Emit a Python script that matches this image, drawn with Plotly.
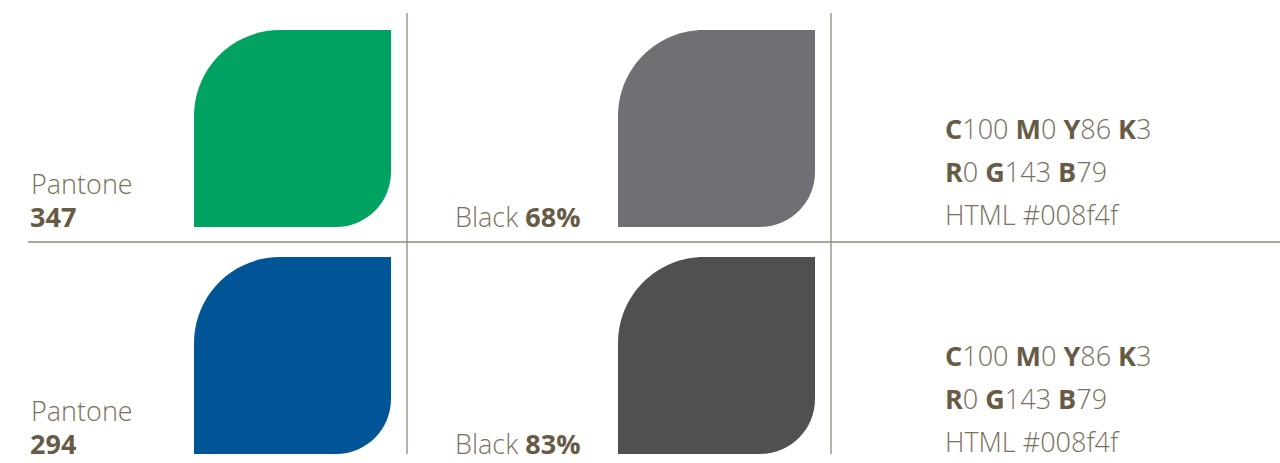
import plotly.graph_objects as go

# ---- data ----
pantone_codes = ["347", "294"]
pantone_colors = ["#00a262", "#005596"]
black_percents = ["68%", "83%"]
black_colors = ["#6f7074", "#505052"]
cmyk_values = [["100", "0", "86", "3"], ["100", "0", "86", "3"]]
rgb_values = [["0", "143", "79"], ["0", "143", "79"]]
html_codes = ["#008f4f", "#008f4f"]

# ---- style / layout ----
W, H = 1280, 463
LIGHT = "#7a705d"
BOLD = "#675b45"
LINE = "#8f8878"
FONT = "Open Sans Light, Open Sans"
row_top = [30, 257]
sw_size = 197
sw_x = [194, 618]
r_big, r_small = 86, 55
K = 0.5523

def leaf(x0, y0, s):
    x1, y1 = x0 + s, y0 + s
    a, b = r_big, r_small
    return (f"M {x0},{y1} L {x0},{y0+a} "
            f"C {x0},{y0+a*(1-K)} {x0+a*(1-K)},{y0} {x0+a},{y0} "
            f"L {x1},{y0} L {x1},{y1-b} "
            f"C {x1},{y1-b*(1-K)} {x1-b*(1-K)},{y1} {x1-b},{y1} Z")

fig = go.Figure()
fig.add_trace(go.Scatter(x=[0, W], y=[0, H], mode="markers",
                         marker=dict(opacity=0), hoverinfo="skip", showlegend=False))

shapes = []
anns = []
B = lambda s: f"<span style='font-family:Open Sans;font-weight:700;color:{BOLD}'>{s}</span>"
for i in range(2):
    t = row_top[i]
    shapes.append(dict(type="path", path=leaf(sw_x[0], t, sw_size),
                       fillcolor=pantone_colors[i], line=dict(width=0), xref="x", yref="y"))
    shapes.append(dict(type="path", path=leaf(sw_x[1], t, sw_size),
                       fillcolor=black_colors[i], line=dict(width=0), xref="x", yref="y"))
    base = t + sw_size
    fs = 27
    anns.append(dict(x=29, y=base - 35 - 0.3 * fs, text="Pantone",
                     font=dict(family=FONT, size=fs, color=LIGHT, weight=300)))
    anns.append(dict(x=28, y=base - 2 - 0.3 * fs, text=B(pantone_codes[i]),
                     font=dict(family=FONT, size=fs, color=BOLD, weight=300)))
    anns.append(dict(x=453, y=base - 2 - 0.3 * fs,
                     text=f"Black {B(black_percents[i])}",
                     font=dict(family=FONT, size=fs, color=LIGHT, weight=300)))
    fs2 = 27
    c, m, y, k = cmyk_values[i]
    r, g, b = rgb_values[i]
    lines = [
        f"{B('C')}{c} {B('M')}{m} {B('Y')}{y} {B('K')}{k}",
        f"{B('R')}{r} {B('G')}{g} {B('B')}{b}",
        f"HTML {html_codes[i]}",
    ]
    for j, txt in enumerate(lines):
        anns.append(dict(x=943, y=base - 90 + 43 * j - 0.3 * fs2, text=txt,
                         font=dict(family=FONT, size=fs2, color=LIGHT, weight=300)))

for a in anns:
    a.update(xref="x", yref="y", xanchor="left", yanchor="middle", showarrow=False)

# grid lines
shapes.append(dict(type="line", x0=28, x1=W, y0=242, y1=242, line=dict(color=LINE, width=1.3), xref="x", yref="y"))
for xv in [407, 831]:
    shapes.append(dict(type="line", x0=xv, x1=xv, y0=13, y1=454, line=dict(color=LINE, width=1.3), xref="x", yref="y"))

fig.update_layout(
    width=W, height=H, margin=dict(l=0, r=0, t=0, b=0),
    paper_bgcolor="white", plot_bgcolor="white",
    xaxis=dict(range=[0, W], visible=False, fixedrange=True),
    yaxis=dict(range=[H, 0], visible=False, fixedrange=True),
    shapes=shapes, annotations=anns, showlegend=False,
)
fig.write_html("out.html", config={"displayModeBar": False},
               post_script="document.body.style.margin='0';document.body.style.overflow='hidden';")
